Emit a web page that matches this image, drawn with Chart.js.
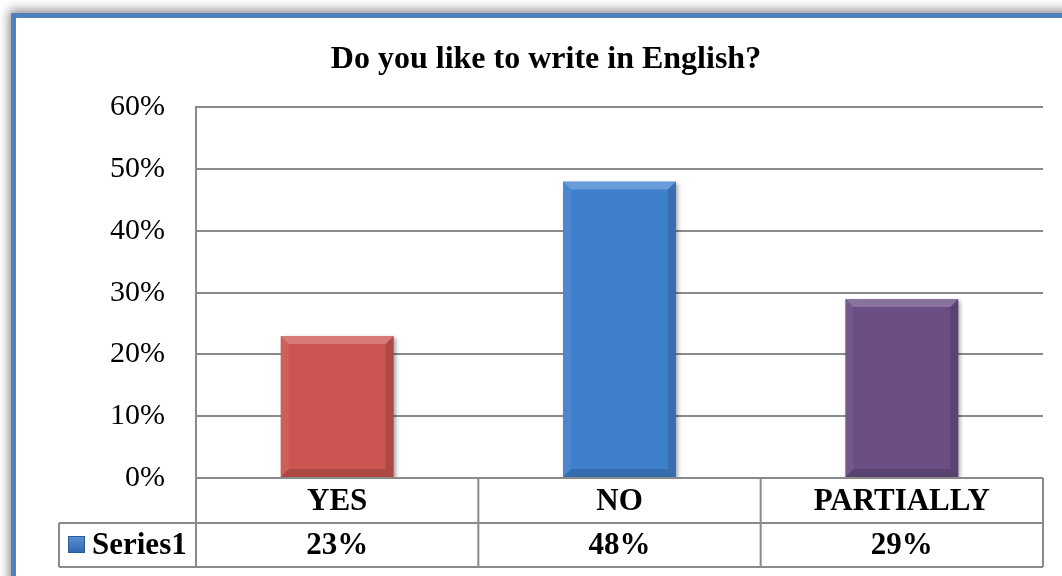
<!DOCTYPE html>
<html>
<head>
<meta charset="utf-8">
<script src="https://cdn.jsdelivr.net/npm/chart.js@4"></script>
<style>
    body { margin: 0; background: #fff; width: 1062px; height: 576px; overflow: hidden; position: relative; }
    #frame { position: absolute; left: 11px; top: 13px; width: 1100px; height: 620px; border: 5px solid #4f81bd; background: #fff; box-shadow: -2px -3px 10px rgba(0,0,0,0.45); }
    #myChart { position: absolute; left: 0; top: 0; }
</style>
</head>
<body>
<div id="frame"></div>
<canvas id="myChart" width="1062" height="576"></canvas>
<script>
const categories = ['YES', 'NO', 'PARTIALLY'];
const values = [23, 48, 29];
const barColors = ['#cb5551', '#3f80cd', '#6a4e84'];
const valueLabels = ['23%', '48%', '29%'];
const seriesName = 'Series1';
const chartTitle = 'Do you like to write in English?';

const serif = "'Liberation Serif', 'Times New Roman', serif";
const lineGrey = '#8a8a8a';

// bevel look on each bar, done on top of what chart.js drew
const bevelPlugin = {
    id: 'bevel',
    beforeDatasetsDraw(chart) {
        const ctx = chart.ctx;
        ctx.save();
        ctx.shadowColor = 'rgba(0,0,0,0.35)';
        ctx.shadowBlur = 4;
        ctx.shadowOffsetX = 2;
        ctx.shadowOffsetY = 2;
    },
    afterDatasetsDraw(chart) {
        const ctx = chart.ctx;
        ctx.restore();
        const meta = chart.getDatasetMeta(0);
        meta.data.forEach(bar => {
            const p = bar.getProps(['x', 'y', 'base', 'width'], true);
            const l = p.x - p.width / 2, r = p.x + p.width / 2, t = p.y, b = p.base;
            const d = 8;
            const poly = (pts, color) => {
                ctx.beginPath();
                ctx.moveTo(pts[0][0], pts[0][1]);
                pts.slice(1).forEach(pt => ctx.lineTo(pt[0], pt[1]));
                ctx.closePath();
                ctx.fillStyle = color;
                ctx.fill();
            };
            poly([[l, t], [r, t], [r - d, t + d], [l + d, t + d]], 'rgba(255,255,255,0.22)');
            poly([[l, t], [l + d, t + d], [l + d, b - d], [l, b]], 'rgba(255,255,255,0.06)');
            poly([[r, t], [r, b], [r - d, b - d], [r - d, t + d]], 'rgba(0,0,0,0.14)');
            poly([[l, b], [r, b], [r - d, b - d], [l + d, b - d]], 'rgba(0,0,0,0.15)');
        });
    }
};

// data table under the plot (categories row + values row + legend key)
const tablePlugin = {
    id: 'dataTable',
    afterDraw(chart) {
        const ctx = chart.ctx;
        const area = chart.chartArea;
        const colW = (area.right - area.left) / categories.length;
        const r0 = area.bottom, r1 = r0 + 45, r2 = r1 + 44;
        const legendLeft = 59;

        ctx.save();
        ctx.strokeStyle = lineGrey;
        ctx.lineWidth = 2;
        ctx.beginPath();
        // horizontal lines
        ctx.moveTo(area.left, r0); ctx.lineTo(area.right, r0);
        ctx.moveTo(legendLeft, r1); ctx.lineTo(area.right, r1);
        ctx.moveTo(legendLeft, r2); ctx.lineTo(area.right, r2);
        // vertical lines
        for (let i = 0; i <= categories.length; i++) {
            const x = area.left + i * colW;
            ctx.moveTo(x, r0); ctx.lineTo(x, r2);
        }
        ctx.moveTo(legendLeft, r1); ctx.lineTo(legendLeft, r2);
        ctx.stroke();

        ctx.fillStyle = '#000';
        ctx.font = 'bold 31px ' + serif;
        ctx.textAlign = 'center';
        ctx.textBaseline = 'middle';
        categories.forEach((c, i) => {
            const cx = area.left + (i + 0.5) * colW;
            ctx.fillText(c, cx, (r0 + r1) / 2 + 1);
            ctx.fillText(valueLabels[i], cx, (r1 + r2) / 2 + 1);
        });

        // legend key
        const kx = 68, ky = 536, ks = 17;
        const g = ctx.createLinearGradient(0, ky, 0, ky + ks);
        g.addColorStop(0, '#5b93d6');
        g.addColorStop(1, '#2f66ad');
        ctx.fillStyle = g;
        ctx.fillRect(kx, ky, ks, ks);
        ctx.strokeStyle = '#2a5a9a';
        ctx.lineWidth = 1;
        ctx.strokeRect(kx + 0.5, ky + 0.5, ks - 1, ks - 1);

        ctx.fillStyle = '#000';
        ctx.textAlign = 'left';
        ctx.fillText(seriesName, 92, (r1 + r2) / 2 + 1);
        ctx.restore();
    }
};

const ctx = document.getElementById('myChart');
new Chart(ctx, {
    type: 'bar',
    data: {
        labels: categories,
        datasets: [{
            label: seriesName,
            data: values,
            backgroundColor: barColors,
            borderWidth: 0,
            categoryPercentage: 1,
            barPercentage: 0.4
        }]
    },
    options: {
        responsive: false,
        animation: false,
        layout: {
            padding: { left: 49, right: 19, top: 0, bottom: 98 }
        },
        plugins: {
            legend: { display: false },
            tooltip: { enabled: false },
            title: {
                display: true,
                text: chartTitle,
                color: '#000',
                font: { family: serif, size: 32, weight: 'bold' },
                padding: { top: 41, bottom: 28 }
            }
        },
        scales: {
            x: { display: false },
            y: {
                min: 0,
                max: 60,
                afterFit: s => { s.width = 147; },
                ticks: {
                    stepSize: 10,
                    padding: 31,
                    color: '#000',
                    font: { family: serif, size: 30 },
                    callback: v => v + '%'
                },
                grid: { color: lineGrey, lineWidth: 2, drawTicks: false },
                border: { color: lineGrey, width: 2 }
            }
        }
    },
    plugins: [bevelPlugin, tablePlugin]
});
</script>
</body>
</html>
